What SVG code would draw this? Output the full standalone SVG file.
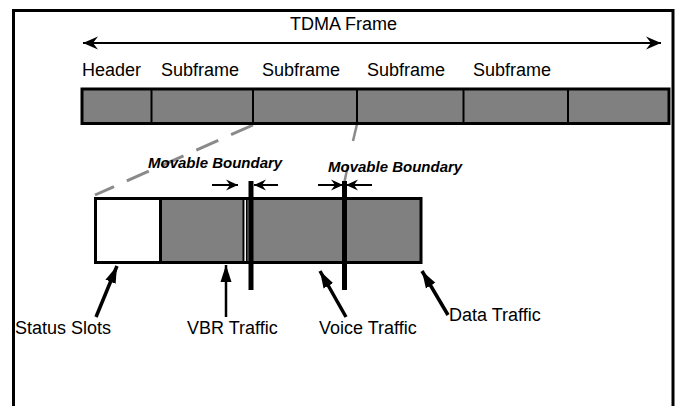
<svg xmlns="http://www.w3.org/2000/svg" width="679" height="406" viewBox="0 0 679 406">
<style>
.t{font-family:"Liberation Sans",Arial,sans-serif;font-size:18px;fill:#000}
.mb{font-family:"Liberation Sans",Arial,sans-serif;font-size:15px;font-weight:bold;font-style:italic;fill:#000}
.dash{stroke:#8a8a8a;stroke-width:3;fill:none;stroke-dasharray:24 14}
.ptr{stroke:#000;stroke-width:3.5;fill:none;marker-end:url(#ph)}
.sm{stroke:#000;stroke-width:2;fill:none;marker-end:url(#sh)}
</style>
<defs>
<marker id="bh" viewBox="-15 -7 16 14" refX="0" refY="0" markerWidth="16" markerHeight="14" markerUnits="userSpaceOnUse" orient="auto-start-reverse">
<path d="M0,0 L-15,-6.5 L-10,0 L-15,6.5 Z" fill="#000"/>
</marker>
<marker id="sh" viewBox="-12 -6 13 12" refX="0" refY="0" markerWidth="13" markerHeight="12" markerUnits="userSpaceOnUse" orient="auto">
<path d="M0,0 L-12,-5.5 L-8,0 L-12,5.5 Z" fill="#000"/>
</marker>
<marker id="ph" viewBox="-17 -6 18 12" refX="0" refY="0" markerWidth="18" markerHeight="12" markerUnits="userSpaceOnUse" orient="auto">
<path d="M0,0 L-17,-5.5 L-17,5.5 Z" fill="#000"/>
</marker>
</defs>

<path d="M13.5,410 V10.5 H673 V410" fill="none" stroke="#000" stroke-width="3"/>

<g id="title">
<text class="t" x="290" y="30">TDMA Frame</text>
</g>

<g id="connectors">
<line x1="83" y1="43" x2="661" y2="43" stroke="#000" stroke-width="2" marker-start="url(#bh)" marker-end="url(#bh)"/>
<line class="dash" x1="253" y1="125" x2="95" y2="195"/>
<line x1="357" y1="124" x2="353" y2="141" stroke="#8a8a8a" stroke-width="2.5"/>
<line x1="348" y1="165" x2="344" y2="184" stroke="#8a8a8a" stroke-width="2.5"/>
<line class="sm" x1="212" y1="185" x2="238" y2="185"/>
<line class="sm" x1="278" y1="185" x2="254" y2="185"/>
<line class="sm" x1="318" y1="185" x2="343" y2="185"/>
<line class="sm" x1="372" y1="185" x2="346" y2="185"/>
<line class="ptr" x1="96" y1="317" x2="117" y2="266"/>
<line x1="226" y1="317" x2="226" y2="265" stroke="#000" stroke-width="2.5" marker-end="url(#ph)"/>
<line class="ptr" x1="346" y1="317" x2="320" y2="271"/>
<line class="ptr" x1="448" y1="315" x2="422" y2="271"/>
</g>

<g id="frame-bar">
<rect x="82" y="89" width="587" height="34.5" fill="#808080" stroke="#000" stroke-width="3"/>
<line x1="151.5" y1="89" x2="151.5" y2="123.5" stroke="#000" stroke-width="2"/>
<line x1="253" y1="89" x2="253" y2="123.5" stroke="#000" stroke-width="2"/>
<line x1="357" y1="89" x2="357" y2="123.5" stroke="#000" stroke-width="2"/>
<line x1="463.5" y1="89" x2="463.5" y2="123.5" stroke="#000" stroke-width="2"/>
<line x1="568" y1="89" x2="568" y2="123.5" stroke="#000" stroke-width="2"/>
</g>

<g id="frame-labels">
<text class="t" x="82" y="76">Header</text>
<text class="t" x="161" y="76">Subframe</text>
<text class="t" x="262" y="76">Subframe</text>
<text class="t" x="367" y="76">Subframe</text>
<text class="t" x="473" y="76">Subframe</text>
</g>

<g id="detail-box">
<rect x="95.5" y="198.5" width="65" height="64" fill="#fff" stroke="#000" stroke-width="3"/>
<rect x="160.5" y="198.5" width="83.5" height="64" fill="#808080" stroke="#000" stroke-width="3"/>
<rect x="246" y="198.5" width="175" height="64" fill="#808080" stroke="#000" stroke-width="3"/>
<line x1="245.2" y1="200" x2="245.2" y2="261" stroke="#fff" stroke-width="1.5"/>
</g>

<g id="boundaries">
<line x1="251" y1="181" x2="251" y2="290" stroke="#000" stroke-width="5"/>
<line x1="344.5" y1="181" x2="344.5" y2="290" stroke="#000" stroke-width="5"/>
<text class="mb" x="148" y="168">Movable Boundary</text>
<text class="mb" x="328" y="172">Movable Boundary</text>
</g>

<g id="traffic-labels">
<text class="t" x="15" y="334">Status Slots</text>
<text class="t" x="187" y="334">VBR Traffic</text>
<text class="t" x="319" y="334">Voice Traffic</text>
<text class="t" x="449" y="321">Data Traffic</text>
</g>
</svg>
